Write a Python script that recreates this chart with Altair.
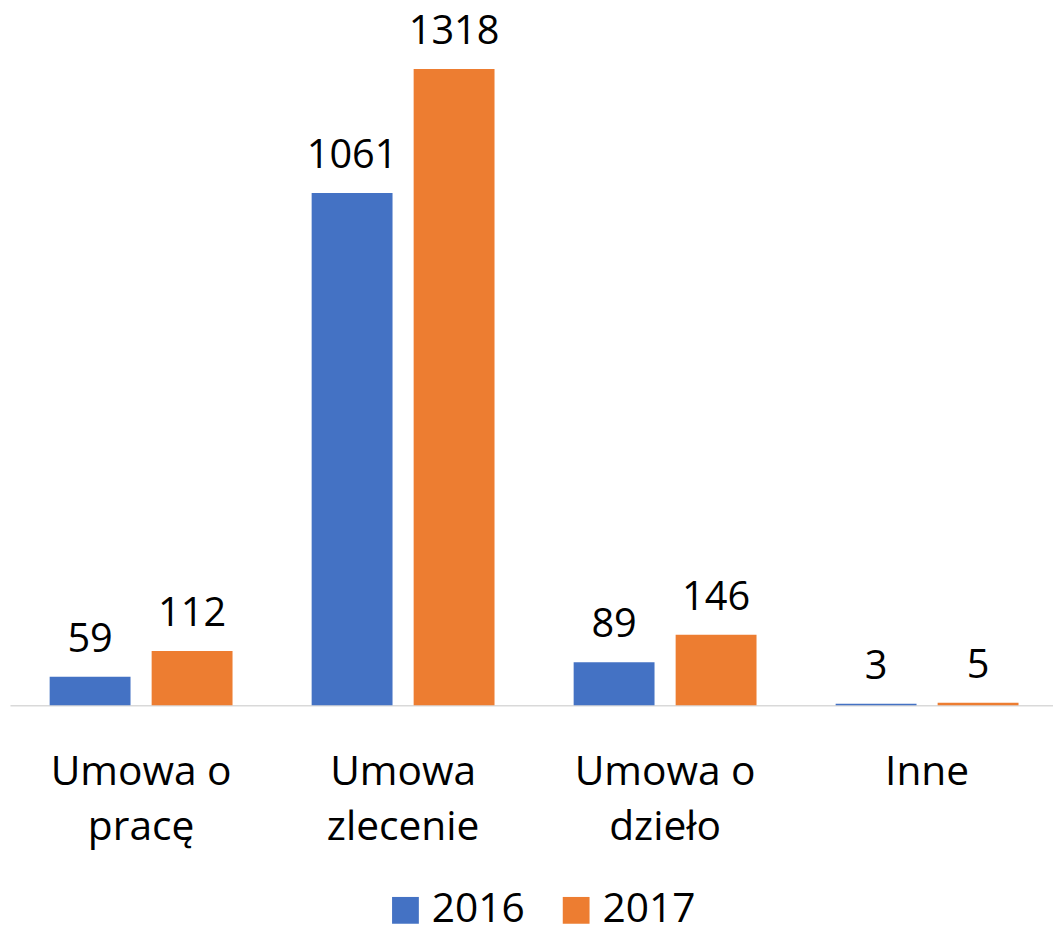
import altair as alt
import pandas as pd

categories = ["Umowa o pracę", "Umowa zlecenie", "Umowa o dzieło", "Inne"]
years = ["2016", "2017"]
values_2016 = [59, 1061, 89, 3]
values_2017 = [112, 1318, 146, 5]
colors = ["#4472C4", "#ED7D31"]

rows = []
for c, a, b in zip(categories, values_2016, values_2017):
    rows.append({"kategoria": c, "rok": years[0], "wartosc": a})
    rows.append({"kategoria": c, "rok": years[1], "wartosc": b})
df = pd.DataFrame(rows)

FONT = "Open Sans"

x = alt.X(
    "kategoria:N",
    sort=categories,
    scale=alt.Scale(paddingInner=0.302, paddingOuter=0.1415, align=0.535, round=False),
    axis=alt.Axis(
        title=None,
        ticks=False,
        tickSize=0,
        grid=False,
        domainColor="#D9D9D9",
        domainWidth=1.5,
        labelFont=FONT,
        labelFontSize=41,
        labelColor="#000000",
        labelAngle=0,
        labelPadding=80,
        labelBaseline="alphabetic",
        labelLineHeight=55,
        labelLimit=0,
        labelExpr="lastindexof(datum.label, ' ') > 0 ? [substring(datum.label, 0, lastindexof(datum.label, ' ')), substring(datum.label, lastindexof(datum.label, ' ') + 1)] : datum.label",
    ),
)
xo = alt.XOffset("rok:N", sort=years, scale=alt.Scale(paddingInner=0.207, paddingOuter=0, round=False))
y = alt.Y("wartosc:Q", scale=alt.Scale(domain=[0, 1400], nice=False), axis=None)

base = alt.Chart(df)

bars = base.mark_bar().encode(
    x=x,
    xOffset=xo,
    y=y,
    color=alt.Color(
        "rok:N",
        sort=years,
        scale=alt.Scale(domain=years, range=colors),
        legend=alt.Legend(
            title=None,
            orient="none",
            direction="horizontal",
            legendX=378,
            legendY=867,
            padding=0,
            symbolType="square",
            symbolSize=729,
            symbolStrokeWidth=0,
            symbolOpacity=1,
            labelFont=FONT,
            labelFontSize=41,
            labelColor="#000000",
            labelOffset=6,
            columnPadding=31,
        ),
    ),
)

labels = base.mark_text(
    font=FONT, fontSize=40, color="#000000", baseline="alphabetic", dy=-25
).encode(
    x=x,
    xOffset=xo,
    y=y,
    text=alt.Text("wartosc:Q"),
)

chart = (
    alt.layer(bars, labels)
    .properties(
        width=1051,
        height=681,
        autosize=alt.AutoSizeParams(type="none"),
        padding={"left": 2, "top": 18, "right": 0, "bottom": 217},
        view=alt.ViewBackground(stroke="transparent", strokeWidth=0),
    )
    .configure_view(stroke="transparent", strokeWidth=0)
    .configure_axis(grid=False)
    .configure(background="#ffffff")
)

chart.save("out.html", embed_options={"renderer": "svg", "actions": False})
